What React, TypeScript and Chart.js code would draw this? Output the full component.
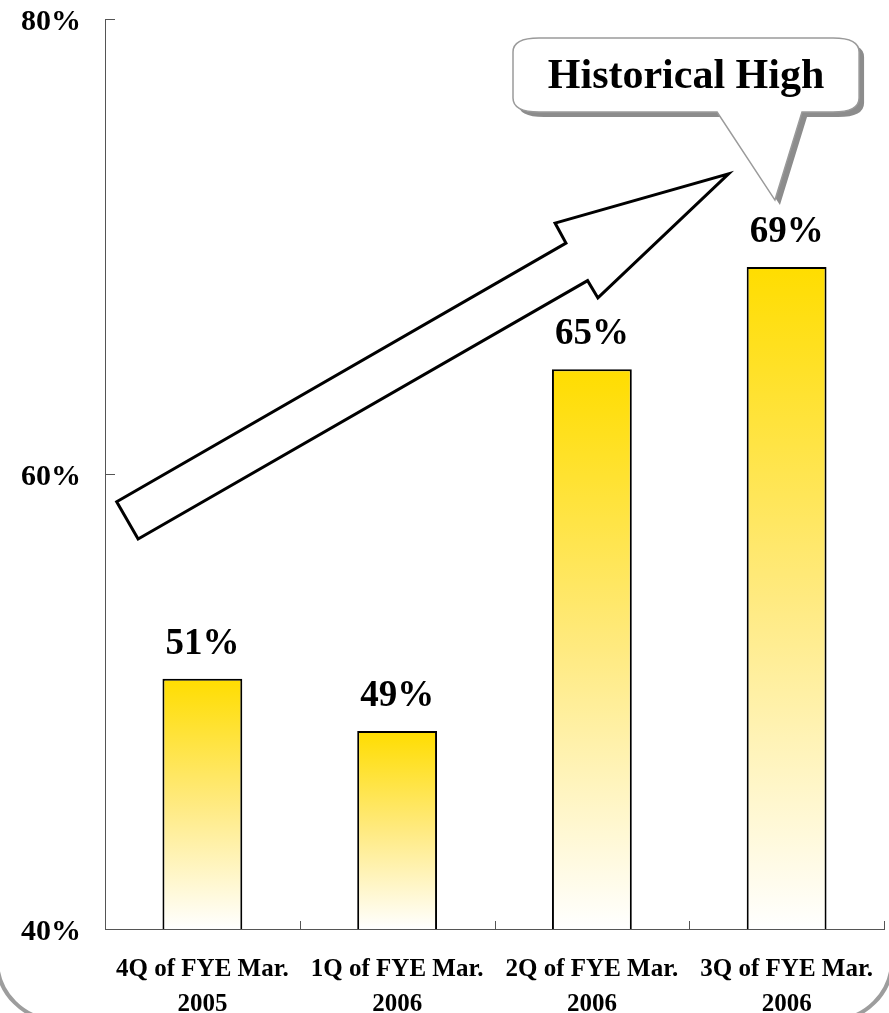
import React, { useEffect, useRef } from 'react';
import { Chart, registerables } from 'chart.js';

Chart.register(...registerables);

const categories: string[][] = [
  ['4Q of FYE Mar.', '2005'],
  ['1Q of FYE Mar.', '2006'],
  ['2Q of FYE Mar.', '2006'],
  ['3Q of FYE Mar.', '2006'],
];
const ratioValues = [51.0, 48.7, 64.6, 69.1];
const valueLabels = ['51%', '49%', '65%', '69%'];
const yTickValues = [40, 60, 80];
const calloutText = 'Historical High';
// trend arrow outline in data coordinates: [category index, percent]
const arrowPoints: number[][] = [
  [-0.44, 58.78],
  [1.867, 70.15],
  [1.811, 71.03],
  [2.702, 73.19],
  [2.031, 67.74],
  [1.978, 68.5],
  [-0.33, 57.14],
];
// callout box in data coordinates: [left idx, right idx, top %, bottom %]
const calloutBox = [1.595, 3.372, 79.16, 75.91];
// callout tail: base left idx, base right idx, tip idx, tip %
const calloutTail = [2.643, 3.079, 2.94, 72.04];

const FONT = "'Liberation Serif', 'Times New Roman', serif";

const overlayPlugin = {
  id: 'overlay',
  afterDatasetsDraw(chart: any) {
    const { ctx, scales, chartArea } = chart;
    const x = scales.x;
    const y = scales.y;
    ctx.save();
    // inner ticks
    ctx.strokeStyle = '#555';
    ctx.lineWidth = 1;
    yTickValues.forEach((v) => {
      const py = Math.round(y.getPixelForValue(v)) + 0.5;
      ctx.beginPath();
      ctx.moveTo(chartArea.left, py);
      ctx.lineTo(chartArea.left + 10, py);
      ctx.stroke();
    });
    for (let i = 0; i < categories.length; i++) {
      const px = Math.round(x.getPixelForValue(i + 0.5)) + 0.5;
      ctx.beginPath();
      ctx.moveTo(px, chartArea.bottom);
      ctx.lineTo(px, chartArea.bottom - 8);
      ctx.stroke();
    }
    // value labels
    const meta = chart.getDatasetMeta(0);
    ctx.fillStyle = '#000';
    ctx.font = `bold 37px ${FONT}`;
    ctx.textAlign = 'center';
    ctx.textBaseline = 'alphabetic';
    meta.data.forEach((bar: any, i: number) => {
      ctx.fillText(valueLabels[i], bar.x, bar.y - 25);
    });

    // arrow
    ctx.beginPath();
    arrowPoints.forEach((p, i) => {
      const px = x.getPixelForValue(p[0]);
      const py = y.getPixelForValue(p[1]);
      if (i === 0) ctx.moveTo(px, py);
      else ctx.lineTo(px, py);
    });
    ctx.closePath();
    ctx.fillStyle = '#fff';
    ctx.fill();
    ctx.strokeStyle = '#000';
    ctx.lineWidth = 3;
    ctx.lineJoin = 'miter';
    ctx.stroke();

    // callout
    const L = x.getPixelForValue(calloutBox[0]);
    const R = x.getPixelForValue(calloutBox[1]);
    const T = y.getPixelForValue(calloutBox[2]);
    const B = y.getPixelForValue(calloutBox[3]);
    const tl = x.getPixelForValue(calloutTail[0]);
    const tr = x.getPixelForValue(calloutTail[1]);
    const tx = x.getPixelForValue(calloutTail[2]);
    const ty = y.getPixelForValue(calloutTail[3]);
    const rx = 26;
    const ry = 14;
    const path = (dx: number, dy: number) => {
      ctx.beginPath();
      ctx.moveTo(L + rx + dx, T + dy);
      ctx.lineTo(R - rx + dx, T + dy);
      ctx.quadraticCurveTo(R + dx, T + dy, R + dx, T + ry + dy);
      ctx.lineTo(R + dx, B - ry + dy);
      ctx.quadraticCurveTo(R + dx, B + dy, R - rx + dx, B + dy);
      ctx.lineTo(tr + dx, B + dy);
      ctx.lineTo(tx + dx, ty + dy);
      ctx.lineTo(tl + dx, B + dy);
      ctx.lineTo(L + rx + dx, B + dy);
      ctx.quadraticCurveTo(L + dx, B + dy, L + dx, B - ry + dy);
      ctx.lineTo(L + dx, T + ry + dy);
      ctx.quadraticCurveTo(L + dx, T + dy, L + rx + dx, T + dy);
      ctx.closePath();
    };
    path(5, 5);
    ctx.fillStyle = '#8c8c8c';
    ctx.fill();
    path(0, 0);
    ctx.fillStyle = '#fff';
    ctx.fill();
    ctx.strokeStyle = '#9a9a9a';
    ctx.lineWidth = 1.5;
    ctx.stroke();
    ctx.fillStyle = '#000';
    ctx.font = `bold 42px ${FONT}`;
    ctx.textAlign = 'center';
    ctx.textBaseline = 'middle';
    ctx.fillText(calloutText, (L + R) / 2, (T + B) / 2 + 2);
    ctx.restore();
  },
  afterDraw(chart: any) {
    const { ctx, width, height } = chart;
    ctx.save();
    ctx.strokeStyle = '#9d9d9d';
    ctx.lineWidth = 4;
    ctx.beginPath();
    (ctx as any).roundRect(-3, -100, width + 6, height + 7 + 100, 60);
    ctx.stroke();
    ctx.restore();
  },
};

export default function App() {
  const ref = useRef<HTMLCanvasElement | null>(null);
  useEffect(() => {
    document.body.style.margin = '0';
    const canvas = ref.current;
    if (!canvas) return;
    const chart = new Chart(canvas, {
      type: 'bar',
      data: {
        labels: categories as any,
        datasets: [
          {
            data: ratioValues,
            backgroundColor: (c: any) => {
              const ch = c.chart;
              const area = ch.chartArea;
              if (!area || c.type !== 'data') return '#FFE000';
              const top = ch.scales.y.getPixelForValue(c.raw);
              const g = ch.ctx.createLinearGradient(0, top, 0, area.bottom);
              g.addColorStop(0, '#FFDD00');
              g.addColorStop(0.5, '#FFEA80');
              g.addColorStop(1, '#FFFFFF');
              return g;
            },
            borderColor: '#000',
            borderWidth: 2,
            borderSkipped: false,
            barPercentage: 0.41,
            categoryPercentage: 1,
          },
        ],
      },
      options: {
        animation: false,
        responsive: false,
        devicePixelRatio: 1,
        layout: { padding: { top: 19, right: 5, left: 0, bottom: 0 } },
        plugins: { legend: { display: false }, tooltip: { enabled: false } },
        scales: {
          x: {
            grid: { display: false },
            border: { display: true, color: '#555', width: 1 },
            ticks: {
              color: '#000',
              font: { family: FONT, size: 25, weight: 'bold', lineHeight: 1.4 },
              padding: 15,
              maxRotation: 0,
              autoSkip: false,
            },
            afterFit: (s: any) => {
              s.height = 84;
              s.paddingLeft = 0;
              s.paddingRight = 0;
            },
          },
          y: {
            min: 40,
            max: 80,
            grid: { display: false },
            border: { display: true, color: '#555', width: 1 },
            afterBuildTicks: (s: any) => {
              s.ticks = yTickValues.map((v) => ({ value: v }));
            },
            ticks: {
              color: '#000',
              font: { family: FONT, size: 30, weight: 'bold' },
              padding: 16,
              labelOffset: 3,
              callback: (v: any) => `${v}%`,
            },
            afterFit: (s: any) => {
              s.width = 105;
              s.paddingTop = 0;
              s.paddingBottom = 0;
            },
          },
        },
      },
      plugins: [overlayPlugin],
    });
    return () => chart.destroy();
  }, []);
  return <canvas ref={ref} width={889} height={1013} style={{ display: 'block' }} />;
}
